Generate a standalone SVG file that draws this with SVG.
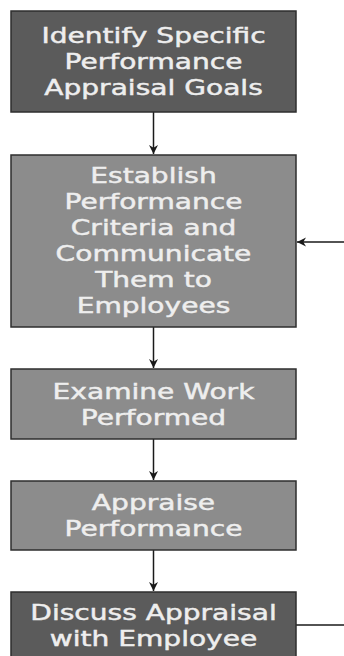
<svg xmlns="http://www.w3.org/2000/svg" width="344" height="656" viewBox="0 0 344 656">
<defs>
<style>
.box{stroke:#2e2e2e;stroke-width:1.5}
.dark{fill:#5b5b5b}
.mid{fill:#8c8c8c}
.t{font-family:"DejaVu Sans","Open Sans",sans-serif;font-size:20.5px;fill:#eeeeee;stroke:#eeeeee;stroke-width:0.45;text-anchor:middle}
.c{stroke:#1a1a1a;stroke-width:1.5;fill:none}
</style>
<marker id="ah" viewBox="0 0 10 10" refX="10" refY="5" markerWidth="9" markerHeight="10" markerUnits="userSpaceOnUse" orient="auto">
<path d="M0,0 L10,5 L0,10 L3,5 Z" fill="#1a1a1a"/>
</marker>
</defs>
<rect width="344" height="656" fill="#ffffff"/>
<g id="connectors">
<line class="c" x1="153.5" y1="112" x2="153.5" y2="154" marker-end="url(#ah)"/>
<line class="c" x1="153.5" y1="327" x2="153.5" y2="368" marker-end="url(#ah)"/>
<line class="c" x1="153.5" y1="439" x2="153.5" y2="480" marker-end="url(#ah)"/>
<line class="c" x1="153.5" y1="550" x2="153.5" y2="591" marker-end="url(#ah)"/>
<line class="c" x1="344" y1="242" x2="297" y2="242" marker-end="url(#ah)"/>
<line class="c" x1="296" y1="625" x2="344" y2="625"/>
</g>
<g id="n1">
<rect class="box dark" x="11" y="11" width="285" height="101"/>
<g transform="translate(153.5 0) scale(1.37 1)">
<text class="t" x="0" y="43.5">Identify Specific</text>
<text class="t" x="0" y="69.5">Performance</text>
<text class="t" x="0" y="95">Appraisal Goals</text>
</g>
</g>
<g id="n2">
<rect class="box mid" x="11" y="155" width="285" height="172"/>
<g transform="translate(153.5 0) scale(1.37 1)">
<text class="t" x="0" y="183">Establish</text>
<text class="t" x="0" y="209.5">Performance</text>
<text class="t" x="0" y="235.5">Criteria and</text>
<text class="t" x="0" y="261.5">Communicate</text>
<text class="t" x="0" y="287.5">Them to</text>
<text class="t" x="0" y="313.5">Employees</text>
</g>
</g>
<g id="n3">
<rect class="box mid" x="11" y="369" width="285" height="70"/>
<g transform="translate(153.5 0) scale(1.37 1)">
<text class="t" x="0" y="399">Examine Work</text>
<text class="t" x="0" y="425">Performed</text>
</g>
</g>
<g id="n4">
<rect class="box mid" x="11" y="481" width="285" height="69"/>
<g transform="translate(153.5 0) scale(1.37 1)">
<text class="t" x="0" y="510">Appraise</text>
<text class="t" x="0" y="536">Performance</text>
</g>
</g>
<g id="n5">
<rect class="box dark" x="11" y="592" width="285" height="80"/>
<g transform="translate(153.5 0) scale(1.37 1)">
<text class="t" x="0" y="620">Discuss Appraisal</text>
<text class="t" x="0" y="646">with Employee</text>
</g>
</g>
</svg>
